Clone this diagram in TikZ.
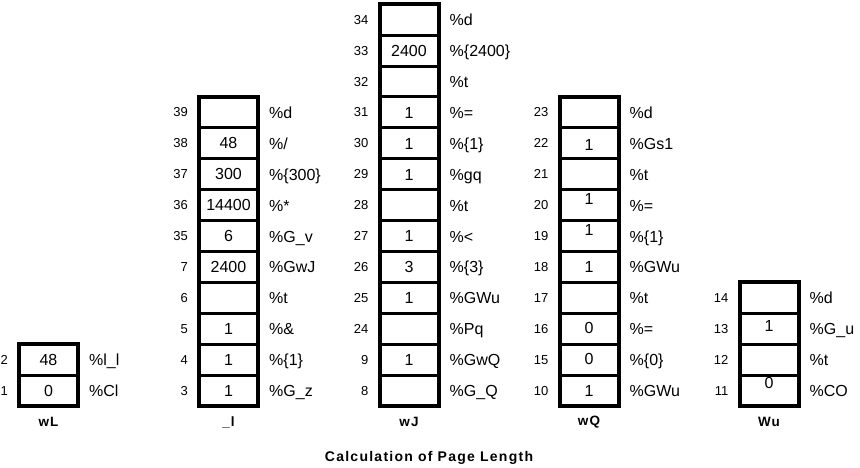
\documentclass[tikz,border=0pt]{standalone}
\usepackage{fontspec}
\setmainfont{Liberation Sans}
\newfontfamily\spacedfont[LetterSpace=9]{Liberation Sans}
\tikzset{
  cell/.style={draw, line width=3pt, minimum width=59pt, minimum height=30.9pt, inner sep=0pt, outer sep=0pt},
  frame/.style={draw, line width=4pt},
  val/.style={anchor=base, inner sep=0pt, font=\fontsize{16}{16}\selectfont},
  idx/.style={anchor=base east, inner sep=0pt, font=\fontsize{13}{13}\selectfont},
  lab/.style={anchor=base west, inner sep=0pt, font=\fontsize{16}{16}\selectfont},
  colname/.style={inner sep=0pt, font=\spacedfont\bfseries\fontsize{13.5}{13.5}\selectfont},
  caption/.style={inner sep=0pt, font=\spacedfont\bfseries\fontsize{14}{14}\selectfont},
}
% #1 index (also name), #2 x of left line, #3 row from bottom, #4 value, #5 label, #6 value dy
\newcommand\mkcell[6]{%
  \node[cell] (c#1) at ({#2+29.5},{406-(#3+0.5)*30.9}) {};
  \path (c#1.center) ++(0,{5.5+#6}) node[val] (c#1v) {#4};
  \path (c#1.west) ++(-11,4.5) node[idx] (c#1n) {#1};
  \path (c#1.east) ++(11,6) node[lab] (c#1l) {#5};
}
\begin{document}
\begin{tikzpicture}[x=1pt,y=-1pt]
\useasboundingbox (0,0) rectangle (860,468);
% column wL
\mkcell{1}{19}{0}{0}{\%Cl}{0}
\mkcell{2}{19}{1}{48}{\%l\_l}{0}
\draw[frame] (c2.north west) rectangle (c1.south east);
\node[colname] (nwL) at (48.5,422) {wL};
% column _l
\mkcell{3}{199}{0}{1}{\%G\_z}{0}
\mkcell{4}{199}{1}{1}{\%\{1\}}{0}
\mkcell{5}{199}{2}{1}{\%\&}{0}
\mkcell{6}{199}{3}{}{\%t}{0}
\mkcell{7}{199}{4}{2400}{\%GwJ}{0}
\mkcell{35}{199}{5}{6}{\%G\_v}{0}
\mkcell{36}{199}{6}{14400}{\%*}{0}
\mkcell{37}{199}{7}{300}{\%\{300\}}{0}
\mkcell{38}{199}{8}{48}{\%/}{0}
\mkcell{39}{199}{9}{}{\%d}{0}
\draw[frame] (c39.north west) rectangle (c3.south east);
\node[colname] (nl) at (228.5,422) {\_l};
% column wJ
\mkcell{8}{379.5}{0}{}{\%G\_Q}{0}
\mkcell{9}{379.5}{1}{1}{\%GwQ}{0}
\mkcell{24}{379.5}{2}{}{\%Pq}{0}
\mkcell{25}{379.5}{3}{1}{\%GWu}{0}
\mkcell{26}{379.5}{4}{3}{\%\{3\}}{0}
\mkcell{27}{379.5}{5}{1}{\%<}{0}
\mkcell{28}{379.5}{6}{}{\%t}{0}
\mkcell{29}{379.5}{7}{1}{\%gq}{1}
\mkcell{30}{379.5}{8}{1}{\%\{1\}}{1}
\mkcell{31}{379.5}{9}{1}{\%=}{1}
\mkcell{32}{379.5}{10}{}{\%t}{0}
\mkcell{33}{379.5}{11}{2400}{\%\{2400\}}{0}
\mkcell{34}{379.5}{12}{}{\%d}{0}
\draw[frame] (c34.north west) rectangle (c8.south east);
\node[colname] (nwJ) at (409,422) {wJ};
% column wQ
\mkcell{10}{559.5}{0}{1}{\%GWu}{0}
\mkcell{15}{559.5}{1}{0}{\%\{0\}}{-1}
\mkcell{16}{559.5}{2}{0}{\%=}{-1}
\mkcell{17}{559.5}{3}{}{\%t}{0}
\mkcell{18}{559.5}{4}{1}{\%GWu}{0}
\mkcell{19}{559.5}{5}{1}{\%\{1\}}{-6}
\mkcell{20}{559.5}{6}{1}{\%=}{-6}
\mkcell{21}{559.5}{7}{}{\%t}{0}
\mkcell{22}{559.5}{8}{1}{\%Gs1}{2}
\mkcell{23}{559.5}{9}{}{\%d}{0}
\draw[frame] (c23.north west) rectangle (c10.south east);
\node[colname] (nwQ) at (589,422) {wQ};
% column Wu
\mkcell{11}{739.5}{0}{0}{\%CO}{-8}
\mkcell{12}{739.5}{1}{}{\%t}{0}
\mkcell{13}{739.5}{2}{1}{\%G\_u}{-3}
\mkcell{14}{739.5}{3}{}{\%d}{0}
\draw[frame] (c14.north west) rectangle (c11.south east);
\node[colname] (nWu) at (769,422) {Wu};
% caption
\node[caption] (cap) at (429,458) {Calculation of Page Length};
\end{tikzpicture}
\end{document}
